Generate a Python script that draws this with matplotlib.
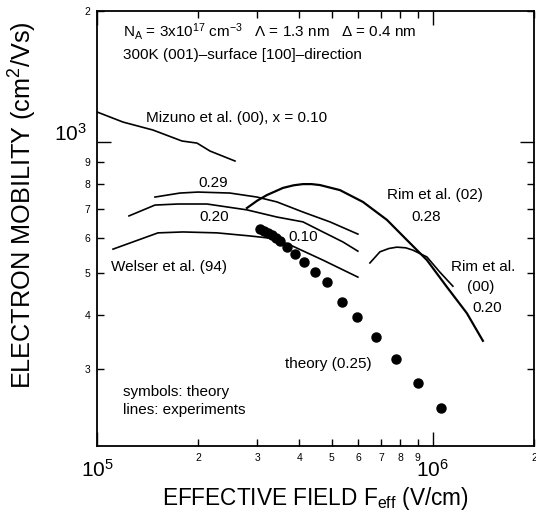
import numpy as np
import matplotlib
matplotlib.use("Agg")
import matplotlib.pyplot as plt
import matplotlib.transforms as mtransforms
from matplotlib.ticker import FixedLocator, FixedFormatter

plt.rcParams['font.family'] = ['Liberation Sans', 'DejaVu Sans']
plt.rcParams['mathtext.fontset'] = 'custom'
plt.rcParams['mathtext.rm'] = 'Liberation Sans'
plt.rcParams['mathtext.default'] = 'regular'

# experiments (lines)
mizuno_x = [1.00e5, 1.195e5, 1.468e5, 1.79e5, 1.985e5, 2.17e5, 2.575e5]
mizuno_y = [1172, 1111, 1065, 1005, 994, 953, 904]

welser29_x = [1.488e5, 1.766e5, 1.998e5, 2.488e5, 2.994e5, 3.433e5, 4.104e5, 4.938e5, 5.98e5]
welser29_y = [747, 763, 767, 763, 747, 728, 690, 655, 614]

welser20_x = [1.245e5, 1.488e5, 1.742e5, 2.125e5, 2.795e5, 3.433e5, 4.104e5, 4.706e5, 5.397e5, 5.98e5]
welser20_y = [676, 716, 720, 720, 698, 672, 655, 621, 589, 561]

welser10_x = [1.116e5, 1.519e5, 1.803e5, 2.276e5, 2.853e5, 3.272e5, 3.753e5, 4.706e5, 5.98e5]
welser10_y = [567, 618, 621, 618, 608, 601, 580, 535, 489]

rim02_x = [2.795e5, 3.0e5, 3.206e5, 3.578e5, 3.85e5, 4.104e5, 4.35e5, 4.61e5, 5.287e5, 6.19e5,
           7.297e5, 8.369e5, 9.6e5, 1.101e6, 1.262e6, 1.409e6]
rim02_y = [705, 733, 755, 784, 795, 800, 800, 796, 775, 728, 662, 595, 535, 464, 404, 349]

rim00_x = [6.494e5, 6.955e5, 7.4e5, 7.815e5, 8.3e5, 8.72e5, 9.6e5, 1.049e6, 1.147e6]
rim00_y = [527, 559, 569, 573, 571, 564, 544, 502, 466]

# theory (symbols)
theory_x = [3.055e5, 3.141e5, 3.228e5, 3.317e5, 3.409e5, 3.504e5, 3.677e5, 3.884e5, 4.132e5,
            4.456e5, 4.837e5, 5.361e5, 5.94e5, 6.767e5, 7.762e5, 9.025e5, 1.056e6]
theory_y = [631, 624, 618, 611, 601, 592, 573, 553, 530, 502, 476, 429, 396, 356, 317, 279, 245]

# ticks
x_major = [1e5, 1e6]
x_major_labels = ['$10^5$', '$10^6$']
x_minor = [2e5, 3e5, 4e5, 5e5, 6e5, 7e5, 8e5, 9e5, 2e6]
x_minor_labels = ['2', '3', '4', '5', '6', '7', '8', '9', '2']
y_major = [1e3]
y_major_labels = ['$10^3$']
y_minor = [300, 400, 500, 600, 700, 800, 900, 2000]
y_minor_labels = ['3', '4', '5', '6', '7', '8', '9', '2']

fig = plt.figure(figsize=(5.36, 5.15), dpi=100)
ax = fig.add_axes([97/536, 1-446/515, (534-97)/536, (446-11)/515])
ax.set_xscale('log')
ax.set_yscale('log')
ax.set_xlim(1e5, 2e6)
ax.set_ylim(200, 2000)

lw = 1.2
ax.plot(mizuno_x, mizuno_y, color='black', lw=lw)
ax.plot(welser29_x, welser29_y, color='black', lw=lw)
ax.plot(welser20_x, welser20_y, color='black', lw=lw)
ax.plot(welser10_x, welser10_y, color='black', lw=lw)
ax.plot(rim02_x, rim02_y, color='black', lw=1.6)
ax.plot(rim00_x, rim00_y, color='black', lw=lw)
ax.plot(theory_x, theory_y, 'o', color='black', markersize=6.5, linestyle='none')

# axis ticks
ax.xaxis.set_major_locator(FixedLocator(x_major))
ax.xaxis.set_major_formatter(FixedFormatter(x_major_labels))
ax.xaxis.set_minor_locator(FixedLocator(x_minor))
ax.xaxis.set_minor_formatter(FixedFormatter(x_minor_labels))
ax.yaxis.set_major_locator(FixedLocator(y_major))
ax.yaxis.set_major_formatter(FixedFormatter(y_major_labels))
ax.yaxis.set_minor_locator(FixedLocator(y_minor))
ax.yaxis.set_minor_formatter(FixedFormatter(y_minor_labels))

ax.tick_params(which='both', direction='in', top=True, right=True, width=1.0)
ax.tick_params(which='major', length=10, labelsize=15)
ax.tick_params(axis='x', which='major', pad=9)
ax.tick_params(axis='y', which='major', pad=7)
ax.tick_params(which='minor', length=5, labelsize=7.5, pad=5)
for sp in ax.spines.values():
    sp.set_linewidth(1.3)

# the 10^3 label sits a little above its tick in the original
shift = mtransforms.ScaledTranslation(0, 10/100, fig.dpi_scale_trans)
for lab in ax.yaxis.get_majorticklabels():
    lab.set_transform(lab.get_transform() + shift)

fig.text(0.588, 0.033, 'EFFECTIVE FIELD F$_{eff}$ (V/cm)', fontsize=16.3, ha='center', va='center')
fig.text(0.043, 1-205/515, 'ELECTRON MOBILITY (cm$^2$/Vs)', fontsize=18.2,
         rotation=90, ha='center', va='center')

# annotations
t = dict(transform=ax.transAxes, fontsize=11, va='center')
ax.text(0.0595, 0.952, '$N_A$ = 3x10$^{17}$ cm$^{-3}$   Λ = 1.3 nm   Δ = 0.4 nm', ha='left', **t)
ax.text(0.0595, 0.899, '300K (001)–surface [100]–direction', ha='left', **t)
ax.text(0.112, 0.754, 'Mizuno et al. (00), x = 0.10', ha='left', **t)
ax.text(0.265, 0.605, '0.29', ha='center', **t)
ax.text(0.268, 0.526, '0.20', ha='center', **t)
ax.text(0.471, 0.480, '0.10', ha='center', **t)
ax.text(0.032, 0.411, 'Welser et al. (94)', ha='left', **t)
ax.text(0.773, 0.577, 'Rim et al. (02)', ha='center', **t)
ax.text(0.753, 0.526, '0.28', ha='center', **t)
ax.text(0.883, 0.411, 'Rim et al.', ha='center', **t)
ax.text(0.879, 0.366, '(00)', ha='center', **t)
ax.text(0.892, 0.317, '0.20', ha='center', **t)
ax.text(0.529, 0.189, 'theory (0.25)', ha='center', **t)
ax.text(0.0595, 0.124, 'symbols: theory', ha='left', **t)
ax.text(0.0595, 0.083, 'lines: experiments', ha='left', **t)

fig.savefig('out.png', dpi=100)
